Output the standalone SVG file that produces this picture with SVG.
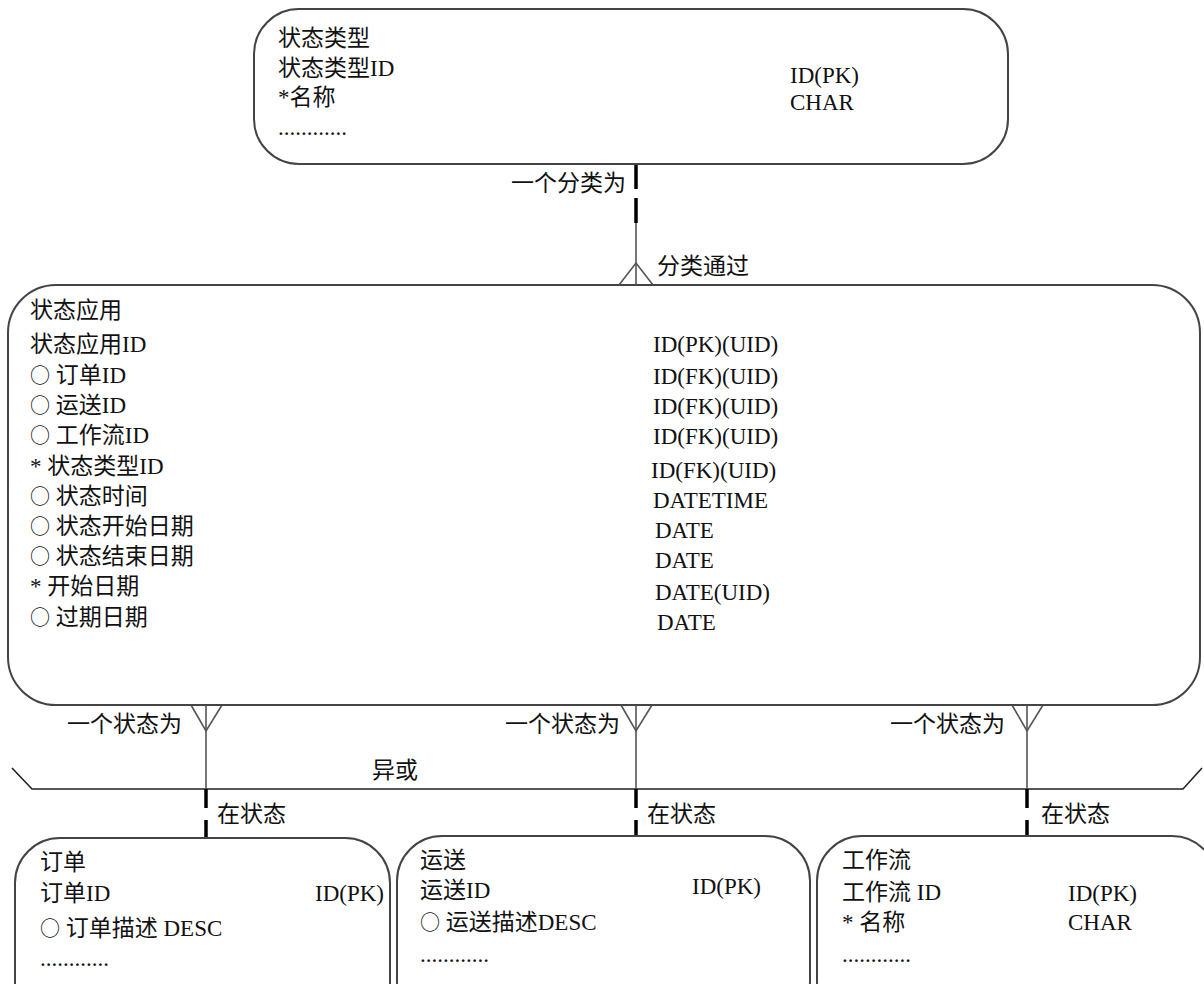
<svg xmlns="http://www.w3.org/2000/svg" width="1204" height="984" viewBox="0 0 1204 984">
<style>
text{font-family:"Liberation Serif","Noto Sans CJK SC",serif;font-size:23px;fill:#111}
.o{font-family:"Noto Sans CJK SC",sans-serif;font-size:20px}
.box{fill:#fff;stroke:#444;stroke-width:2}
.ln{stroke:#555;stroke-width:1.6;fill:none}
.xl{stroke:#222;stroke-width:1.6;fill:none}
.dash{stroke:#000;stroke-width:3.5;fill:none}
</style>
<rect width="1204" height="984" fill="#fff"/>
<g id="connectors">
  <line class="dash" x1="636" y1="164" x2="636" y2="189"/>
  <line class="dash" x1="636" y1="198" x2="636" y2="223"/>
  <line class="ln" x1="636" y1="223" x2="636" y2="285"/>
  <polyline class="ln" points="619,285 636,263 653,285"/>
  <text x="511" y="191">一个分类为</text>
  <text x="657" y="274">分类通过</text>

  <polyline class="xl" points="12,768 32,789 1183,789 1202,768"/>
  <text x="372" y="778">异或</text>

  <line class="ln" x1="206" y1="705" x2="206" y2="789"/>
  <polyline class="ln" points="191,705 206,731 222,705"/>
  <line class="dash" x1="206" y1="789" x2="206" y2="808"/>
  <line class="dash" x1="206" y1="820" x2="206" y2="838"/>
  <text x="67" y="732">一个状态为</text>
  <text x="217" y="822">在状态</text>

  <line class="ln" x1="636" y1="705" x2="636" y2="789"/>
  <polyline class="ln" points="621,705 636,731 652,705"/>
  <line class="dash" x1="636" y1="789" x2="636" y2="808"/>
  <line class="dash" x1="636" y1="820" x2="636" y2="836"/>
  <text x="505" y="732">一个状态为</text>
  <text x="647" y="822">在状态</text>

  <line class="ln" x1="1027" y1="705" x2="1027" y2="789"/>
  <polyline class="ln" points="1012,705 1027,731 1043,705"/>
  <line class="dash" x1="1027" y1="789" x2="1027" y2="808"/>
  <line class="dash" x1="1027" y1="820" x2="1027" y2="836"/>
  <text x="890" y="732">一个状态为</text>
  <text x="1041" y="822">在状态</text>
</g>
<g id="status_type">
  <rect class="box" x="254" y="9" width="754" height="155" rx="45" ry="45"/>
  <text x="278" y="46">状态类型</text>
  <text x="278" y="76">状态类型ID</text>
  <text x="278" y="105">*名称</text>
  <text x="278" y="135">............</text>
  <text x="790" y="83">ID(PK)</text>
  <text x="790" y="110">CHAR</text>
</g>
<g id="status_application">
  <rect class="box" x="8" y="285" width="1192" height="420" rx="48" ry="48"/>
  <text x="30" y="318">状态应用</text>
  <text x="30" y="352">状态应用ID</text>
  <text x="30" y="383"><tspan class="o">○</tspan> 订单ID</text>
  <text x="30" y="413"><tspan class="o">○</tspan> 运送ID</text>
  <text x="30" y="443"><tspan class="o">○</tspan> 工作流ID</text>
  <text x="30" y="474">* 状态类型ID</text>
  <text x="30" y="504"><tspan class="o">○</tspan> 状态时间</text>
  <text x="30" y="534"><tspan class="o">○</tspan> 状态开始日期</text>
  <text x="30" y="564"><tspan class="o">○</tspan> 状态结束日期</text>
  <text x="30" y="594">* 开始日期</text>
  <text x="30" y="625"><tspan class="o">○</tspan> 过期日期</text>
  <text x="653" y="352">ID(PK)(UID)</text>
  <text x="653" y="384">ID(FK)(UID)</text>
  <text x="653" y="414">ID(FK)(UID)</text>
  <text x="653" y="444">ID(FK)(UID)</text>
  <text x="651" y="478">ID(FK)(UID)</text>
  <text x="653" y="508">DATETIME</text>
  <text x="655" y="538">DATE</text>
  <text x="655" y="568">DATE</text>
  <text x="655" y="600">DATE(UID)</text>
  <text x="657" y="630">DATE</text>
</g>
<g id="order">
  <rect class="box" x="15" y="838" width="375" height="190" rx="45" ry="45"/>
  <text x="40" y="870">订单</text>
  <text x="40" y="901">订单ID</text>
  <text x="315" y="901">ID(PK)</text>
  <text x="40" y="936"><tspan class="o">○</tspan> 订单描述 DESC</text>
  <text x="40" y="966">............</text>
</g>
<g id="shipment">
  <rect class="box" x="397" y="836" width="413" height="190" rx="45" ry="45"/>
  <text x="420" y="868">运送</text>
  <text x="420" y="898">运送ID</text>
  <text x="692" y="894">ID(PK)</text>
  <text x="420" y="930"><tspan class="o">○</tspan> 运送描述DESC</text>
  <text x="420" y="962">............</text>
</g>
<g id="workflow">
  <rect class="box" x="817" y="836" width="400" height="190" rx="45" ry="45"/>
  <text x="842" y="868">工作流</text>
  <text x="842" y="900">工作流 ID</text>
  <text x="1068" y="901">ID(PK)</text>
  <text x="842" y="930">* 名称</text>
  <text x="1068" y="930">CHAR</text>
  <text x="842" y="962">............</text>
</g>
</svg>
